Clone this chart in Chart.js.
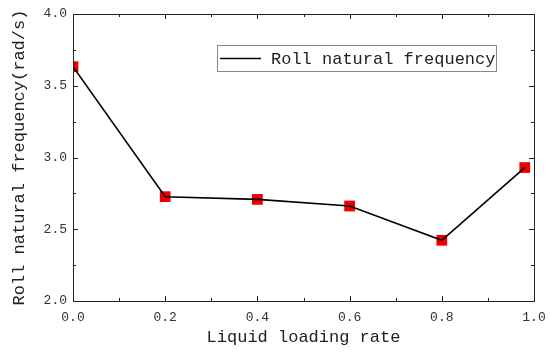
<!DOCTYPE html>
<html>
<head>
<meta charset="utf-8">
<script src="https://cdn.jsdelivr.net/npm/chart.js@4/dist/chart.umd.min.js"></script>
<style>
html,body{margin:0;padding:0;background:#fff;}
#wrap{width:550px;height:352px;}
</style>
</head>
<body>
<div id="wrap"><canvas id="c" width="550" height="352"></canvas></div>
<script>
const loadingRates = [0.0, 0.2, 0.4, 0.6, 0.8, 0.98];
const rollFrequency = [3.633, 2.727, 2.708, 2.662, 2.423, 2.930];
const seriesLabel = 'Roll natural frequency';
const xTitle = 'Liquid loading rate';
const yTitle = 'Roll natural frequency(rad/s)';
const xRange = [0, 1];
const yRange = [2, 4];
const xStep = 0.2;
const yStep = 0.5;

const FONT = "'Liberation Mono', 'DejaVu Sans Mono', monospace";
const points = loadingRates.map((x, i) => ({x: x, y: rollFrequency[i]}));

const frameTicks = {
  id: 'frameTicks',
  afterDatasetsDraw(chart) {
    const {ctx, chartArea: a, scales} = chart;
    const xs = scales.x, ys = scales.y;
    ctx.save();
    ctx.strokeStyle = '#222';
    ctx.lineWidth = 1;
    ctx.strokeRect(Math.round(a.left) + 0.5, Math.round(a.top) + 0.5, Math.round(a.right - a.left), Math.round(a.bottom - a.top));
    const major = 5, minor = 3;
    const xt = xs.ticks.map(t => t.value);
    const yt = ys.ticks.map(t => t.value);
    const mid = arr => arr.slice(0, -1).map((v, i) => (v + arr[i + 1]) / 2);
    ctx.beginPath();
    const xTick = (v, len) => {
      const p = Math.round(xs.getPixelForValue(v)) + 0.5;
      ctx.moveTo(p, a.bottom); ctx.lineTo(p, a.bottom - len);
      ctx.moveTo(p, a.top); ctx.lineTo(p, a.top + len);
    };
    const yTick = (v, len) => {
      const p = Math.round(ys.getPixelForValue(v)) + 0.5;
      ctx.moveTo(a.left, p); ctx.lineTo(a.left + len, p);
      ctx.moveTo(a.right, p); ctx.lineTo(a.right - len, p);
    };
    xt.forEach(v => xTick(v, major));
    mid(xt).forEach(v => xTick(v, minor));
    yt.forEach(v => yTick(v, major));
    mid(yt).forEach(v => yTick(v, minor));
    ctx.stroke();

    // legend box inside plot
    const bx = a.left + 144, by = a.top + 31, bw = 279, bh = 26;
    ctx.fillStyle = '#fff';
    ctx.fillRect(bx, by, bw, bh);
    ctx.strokeStyle = '#888';
    ctx.strokeRect(bx + 0.5, by + 0.5, bw, bh);
    ctx.strokeStyle = '#000';
    ctx.lineWidth = 1.6;
    ctx.beginPath();
    ctx.moveTo(bx + 3, by + 13.5); ctx.lineTo(bx + 44, by + 13.5);
    ctx.stroke();
    ctx.fillStyle = '#222';
    ctx.font = '17px ' + FONT;
    ctx.textBaseline = 'middle';
    ctx.textAlign = 'left';
    ctx.fillText(seriesLabel, bx + 54, by + 14);
    ctx.restore();
  }
};

new Chart(document.getElementById('c'), {
  type: 'scatter',
  data: {
    datasets: [
      {
        label: seriesLabel,
        data: points,
        showLine: true,
        borderColor: '#000',
        borderWidth: 1.6,
        pointRadius: 0,
        order: 0
      },
      {
        label: seriesLabel + ' markers',
        data: points,
        showLine: false,
        pointStyle: 'rect',
        pointRadius: 7.6,
        pointBackgroundColor: '#ee0000',
        pointBorderWidth: 0,
        order: 1
      }
    ]
  },
  options: {
    responsive: false,
    animation: false,
    devicePixelRatio: 1,
    layout: {padding: {top: 14, right: 16, left: 0, bottom: 0}},
    plugins: {legend: {display: false}, tooltip: {enabled: false}},
    scales: {
      x: {
        type: 'linear', min: xRange[0], max: xRange[1],
        grid: {display: false, drawTicks: false},
        border: {display: false},
        ticks: {stepSize: xStep, color: '#333', font: {family: FONT, size: 13}, padding: 9,
          callback: v => Number(v).toFixed(1), maxRotation: 0},
        title: {display: true, text: xTitle, color: '#222', font: {family: FONT, size: 17}, padding: {top: 3, bottom: 4}},
        afterFit: s => { s.height = 51; s.paddingLeft = 0; s.paddingRight = 0; }
      },
      y: {
        type: 'linear', min: yRange[0], max: yRange[1],
        grid: {display: false, drawTicks: false},
        border: {display: false},
        ticks: {stepSize: yStep, color: '#333', font: {family: FONT, size: 13}, padding: 6,
          callback: v => Number(v).toFixed(1)},
        title: {display: true, text: yTitle, color: '#222', font: {family: FONT, size: 17}, padding: {top: 9, bottom: 0}},
        afterFit: s => { s.width = 73; s.paddingTop = 0; s.paddingBottom = 0; }
      }
    }
  },
  plugins: [frameTicks]
});
</script>
</body>
</html>
